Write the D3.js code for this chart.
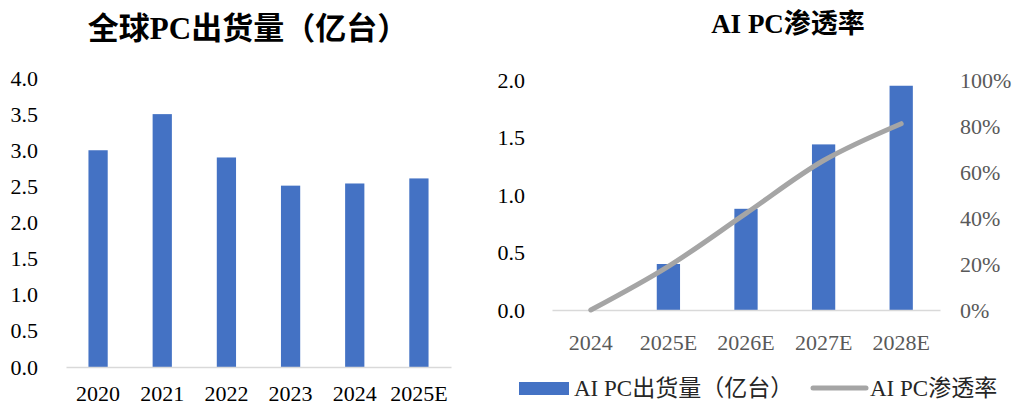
<!DOCTYPE html>
<html><head><meta charset="utf-8">
<script src="https://cdn.jsdelivr.net/npm/d3@7"></script>
<style>
body{margin:0;background:#fff}
svg{display:block}
text{font-family:"Liberation Serif","Noto Sans CJK SC",serif}
</style>
</head><body>
<svg id="chart" width="1022" height="406"></svg>
<script>
// ---- data ----
const years1 = ["2020", "2021", "2022", "2023", "2024", "2025E"];
const shipments = [3.00, 3.50, 2.90, 2.51, 2.54, 2.61];
const yTicks1 = [0, 0.5, 1.0, 1.5, 2.0, 2.5, 3.0, 3.5, 4.0];

const years2 = ["2024", "2025E", "2026E", "2027E", "2028E"];
const aiShipments = [0, 0.40, 0.88, 1.44, 1.95];
const aiPenetration = [0, 0.19, 0.42, 0.65, 0.81];
const yTicks2 = [0, 0.5, 1.0, 1.5, 2.0];
const pctTicks = [0, 0.2, 0.4, 0.6, 0.8, 1.0];

const title1 = "全球PC出货量（亿台）";
const title2 = "AI PC渗透率";
const legend1 = "AI PC出货量（亿台）";
const legend2 = "AI PC渗透率";

const BLUE = "#4472c4", GRAY = "#a5a5a5", AXIS = "#d9d9d9";
const svg = d3.select("#chart");

// ---------- left chart ----------
const x1 = d3.scaleBand().domain(years1).range([66, 451]).paddingInner(0.70).paddingOuter(0.35);
const y1 = d3.scaleLinear().domain([0, 4]).range([367, 78]);

svg.append("text").attr("x", 248).attr("y", 28).attr("dy", "0.35em")
  .attr("text-anchor", "middle").attr("font-size", 31).attr("font-weight", "bold")
  .attr("fill", "#000").text(title1);

svg.append("g").selectAll("rect").data(years1).join("rect")
  .attr("x", d => x1(d)).attr("width", x1.bandwidth())
  .attr("y", (d, i) => y1(shipments[i]))
  .attr("height", (d, i) => y1(0) - y1(shipments[i]))
  .attr("fill", BLUE);

const ax1y = svg.append("g").attr("transform", "translate(38,0)")
  .call(d3.axisLeft(y1).tickValues(yTicks1).tickFormat(d3.format(".1f")).tickSize(0).tickPadding(0));
ax1y.select(".domain").remove();
ax1y.selectAll("text").attr("font-size", 22).attr("fill", "#000").attr("font-family", null);

const ax1x = svg.append("g").attr("transform", "translate(0,367)")
  .call(d3.axisBottom(x1).tickSize(0).tickPadding(0));
ax1x.select(".domain").attr("stroke", AXIS).attr("stroke-width", 1.5);
ax1x.selectAll("text").attr("font-size", 22).attr("fill", "#000").attr("font-family", null)
  .attr("y", 34).attr("dy", "0");

// ---------- right chart ----------
const x2 = d3.scaleBand().domain(years2).range([552, 940]).paddingInner(0.70).paddingOuter(0.35);
const y2 = d3.scaleLinear().domain([0, 2]).range([310, 80]);
const y3 = d3.scaleLinear().domain([0, 1]).range([310, 80]);

svg.append("text").attr("x", 788).attr("y", 24).attr("dy", "0.35em")
  .attr("text-anchor", "middle").attr("font-size", 27).attr("font-weight", "bold")
  .attr("fill", "#000").text(title2);

svg.append("g").selectAll("rect").data(years2).join("rect")
  .attr("x", d => x2(d)).attr("width", x2.bandwidth())
  .attr("y", (d, i) => y2(aiShipments[i]))
  .attr("height", (d, i) => y2(0) - y2(aiShipments[i]))
  .attr("fill", BLUE);

const ax2y = svg.append("g").attr("transform", "translate(525,0)")
  .call(d3.axisLeft(y2).tickValues(yTicks2).tickFormat(d3.format(".1f")).tickSize(0).tickPadding(0));
ax2y.select(".domain").remove();
ax2y.selectAll("text").attr("font-size", 22).attr("fill", "#000").attr("font-family", null);

const ax3y = svg.append("g").attr("transform", "translate(960,0)")
  .call(d3.axisRight(y3).tickValues(pctTicks).tickFormat(d3.format(".0%")).tickSize(0).tickPadding(0));
ax3y.select(".domain").remove();
ax3y.selectAll("text").attr("font-size", 22).attr("fill", "#595959").attr("font-family", null);

const ax2x = svg.append("g").attr("transform", "translate(0,310)")
  .call(d3.axisBottom(x2).tickSize(0).tickPadding(0));
ax2x.select(".domain").attr("stroke", AXIS).attr("stroke-width", 1.5);
ax2x.selectAll("text").attr("font-size", 22).attr("fill", "#595959").attr("font-family", null)
  .attr("y", 32).attr("dy", "0.35em");

const line = d3.line()
  .x((d, i) => x2(years2[i]) + x2.bandwidth() / 2)
  .y(d => y3(d))
  .curve(d3.curveCatmullRom.alpha(0.5));
svg.append("path").datum(aiPenetration).attr("d", line)
  .attr("fill", "none").attr("stroke", GRAY).attr("stroke-width", 5).attr("stroke-linecap", "round");

// legend
const lg = svg.append("g");
lg.append("rect").attr("x", 519).attr("y", 382).attr("width", 50).attr("height", 13).attr("fill", BLUE);
lg.append("text").attr("x", 574).attr("y", 388).attr("dy", "0.35em").attr("font-size", 23)
  .attr("fill", "#262626").text(legend1);
lg.append("line").attr("x1", 813).attr("x2", 866).attr("y1", 388).attr("y2", 388)
  .attr("stroke", GRAY).attr("stroke-width", 5).attr("stroke-linecap", "round");
lg.append("text").attr("x", 870).attr("y", 388).attr("dy", "0.35em").attr("font-size", 23)
  .attr("fill", "#262626").text(legend2);
</script>
</body></html>
